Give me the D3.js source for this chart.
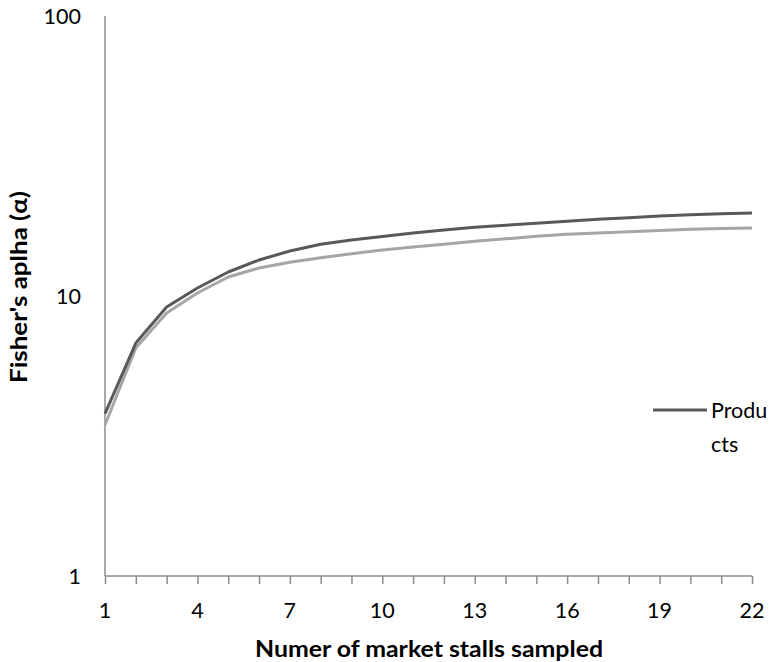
<!DOCTYPE html>
<html>
<head>
<meta charset="utf-8">
<script src="https://cdn.jsdelivr.net/npm/d3@7"></script>
<style>
  html, body { margin: 0; padding: 0; background: #fff; }
  svg { display: block; font-family: Lato, "Open Sans", sans-serif; }
</style>
</head>
<body>
<svg id="chart" width="780" height="662"></svg>
<script>
const samples = d3.range(1, 23);
const xTickLabels = [1, 4, 7, 10, 13, 16, 19, 22];
const yTickLabels = [1, 10, 100];
const products = [3.8, 6.79, 9.14, 10.68, 12.18, 13.44, 14.48, 15.3, 15.85, 16.3, 16.8, 17.2, 17.6, 17.9, 18.2, 18.5, 18.8, 19.05, 19.3, 19.5, 19.65, 19.8];
const secondSeries = [3.46, 6.52, 8.69, 10.25, 11.69, 12.59, 13.2, 13.7, 14.15, 14.6, 14.95, 15.3, 15.7, 16.0, 16.35, 16.6, 16.8, 16.95, 17.15, 17.3, 17.42, 17.5];
const seriesNames = ["Products", ""];

const svg = d3.select("#chart");
const mLeft = 105, mRight = 752, mTop = 16, mBottom = 576;

const x = d3.scaleLinear().domain([1, 22]).range([mLeft, mRight]);
const y = d3.scaleLog().domain([1, 100]).range([mBottom, mTop]);

const axisColor = "#8c8c8c";

// y axis line
svg.append("line").attr("x1", mLeft).attr("x2", mLeft).attr("y1", mTop).attr("y2", mBottom)
  .attr("stroke", axisColor).attr("stroke-width", 1.5);

// y tick labels
svg.append("g").selectAll("text").data(yTickLabels).join("text")
  .attr("x", mLeft - 24).attr("y", d => y(d)).attr("dy", "0.35em")
  .attr("text-anchor", "end").attr("font-size", 21.5).attr("fill", "#000")
  .text(d => d);

// x axis
const xAxis = d3.axisBottom(x).tickValues(samples).tickSize(8).tickFormat("");
const gx = svg.append("g").attr("transform", `translate(0,${mBottom})`).call(xAxis);
gx.select(".domain").attr("stroke", axisColor).attr("stroke-width", 1.5).attr("d", `M${mLeft},0H${mRight}`);
gx.selectAll(".tick line").attr("stroke", axisColor).attr("stroke-width", 1.5);

svg.append("g").selectAll("text").data(xTickLabels).join("text")
  .attr("x", d => x(d)).attr("y", 610).attr("dy", "0.35em")
  .attr("text-anchor", "middle").attr("font-size", 21.5).attr("fill", "#000")
  .text(d => d);

// axis titles
svg.append("text").attr("x", 429).attr("y", 649).attr("dy", "0.35em")
  .attr("text-anchor", "middle").attr("font-size", 23).attr("font-weight", "bold")
  .attr("textLength", 348).attr("lengthAdjust", "spacingAndGlyphs")
  .text("Numer of market stalls sampled");

svg.append("text").attr("transform", "translate(19,287) rotate(-90)").attr("dy", "0.35em")
  .attr("text-anchor", "middle").attr("font-size", 23).attr("font-weight", "bold")
  .attr("textLength", 192).attr("lengthAdjust", "spacingAndGlyphs")
  .text("Fisher's aplha (α)");

// lines
const line = d3.line().x((d, i) => x(samples[i])).y(d => y(d));
svg.append("path").datum(secondSeries).attr("d", line)
  .attr("fill", "none").attr("stroke", "#a6a6a6").attr("stroke-width", 3).attr("stroke-linejoin", "round");
svg.append("path").datum(products).attr("d", line)
  .attr("fill", "none").attr("stroke", "#595959").attr("stroke-width", 3).attr("stroke-linejoin", "round");

// legend
svg.append("line").attr("x1", 653).attr("x2", 707).attr("y1", 410).attr("y2", 410)
  .attr("stroke", "#595959").attr("stroke-width", 3);
const lg = svg.append("text").attr("x", 711).attr("y", 418).attr("font-size", 21.5).attr("fill", "#000");
lg.append("tspan").attr("x", 711).text(seriesNames[0].slice(0, 5));
lg.append("tspan").attr("x", 711).attr("dy", 34).text(seriesNames[0].slice(5));
</script>
</body>
</html>
